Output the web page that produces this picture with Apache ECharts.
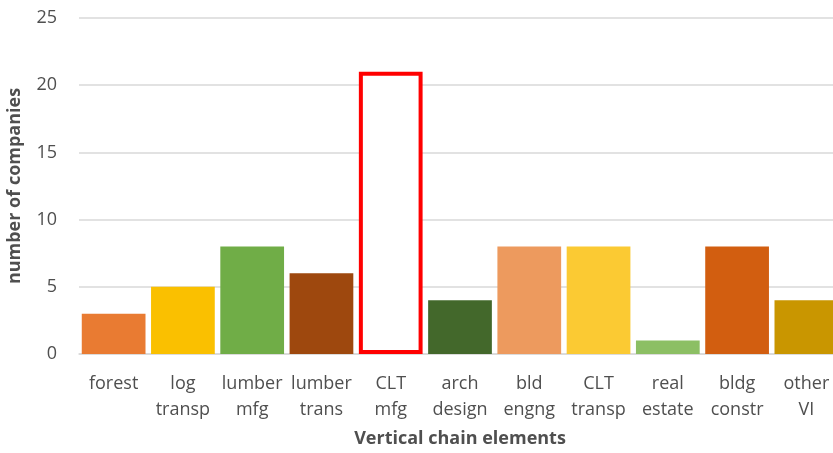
<!DOCTYPE html>
<html><head><meta charset="utf-8">
<script src="https://cdn.jsdelivr.net/npm/echarts@6/dist/echarts.min.js"></script>
<style>html,body{margin:0;padding:0;background:#fff}#c{width:833px;height:453px}</style>
</head><body><div id="c"></div>
<script>
const categories = ['forest', 'log\ntransp', 'lumber\nmfg', 'lumber\ntrans', 'CLT\nmfg', 'arch\ndesign', 'bld\nengng', 'CLT\ntransp', 'real\nestate', 'bldg\nconstr', 'other\nVI'];
const values = [3, 5, 8, 6, 21, 4, 8, 8, 1, 8, 4];
const colors = ['#E97B32', '#FAC000', '#70AD47', '#9E480E', '#FFFFFF', '#43682B', '#ED9A5E', '#FBCA33', '#8CBF64', '#D25E10', '#C99600'];
const yTicks = [0, 5, 10, 15, 20, 25];
const xTitle = 'Vertical chain elements';
const yTitle = 'number of companies';

const font = '"Open Sans", "Liberation Sans", sans-serif';
const txt = '#4f4f4f';
const chart = echarts.init(document.getElementById('c'));
chart.setOption({
  animation: false,
  grid: { left: 79, right: -8, top: 18, bottom: 99, outerBoundsMode: 'none', containLabel: false },
  xAxis: {
    type: 'category', data: categories,
    axisLine: { show: true, lineStyle: { color: '#d9d9d9', width: 1.5 } },
    axisTick: { show: false },
    axisLabel: { color: txt, fontSize: 18, fontFamily: font, lineHeight: 26, margin: 17, interval: 0 },
    name: xTitle, nameLocation: 'middle', nameGap: 76,
    nameTextStyle: { color: txt, fontSize: 18, fontWeight: 'bold', fontFamily: font }
  },
  yAxis: {
    type: 'value', min: yTicks[0], max: yTicks[yTicks.length - 1], interval: 5,
    axisLine: { show: false }, axisTick: { show: false },
    splitLine: { lineStyle: { color: '#d9d9d9', width: 1.5 } },
    axisLabel: { color: txt, fontSize: 18, fontFamily: font, margin: 22 },
    name: yTitle, nameLocation: 'middle', nameGap: 55, nameRotate: 90,
    nameTextStyle: { color: txt, fontSize: 18, fontWeight: 'bold', fontFamily: font }
  },
  series: [{
    type: 'bar', barCategoryGap: '8%',
    data: values.map((v, i) => ({
      value: v,
      itemStyle: i === 4
        ? { color: '#FFFFFF', borderColor: '#FF0000', borderWidth: 4 }
        : { color: colors[i] }
    }))
  }]
});
</script></body></html>
